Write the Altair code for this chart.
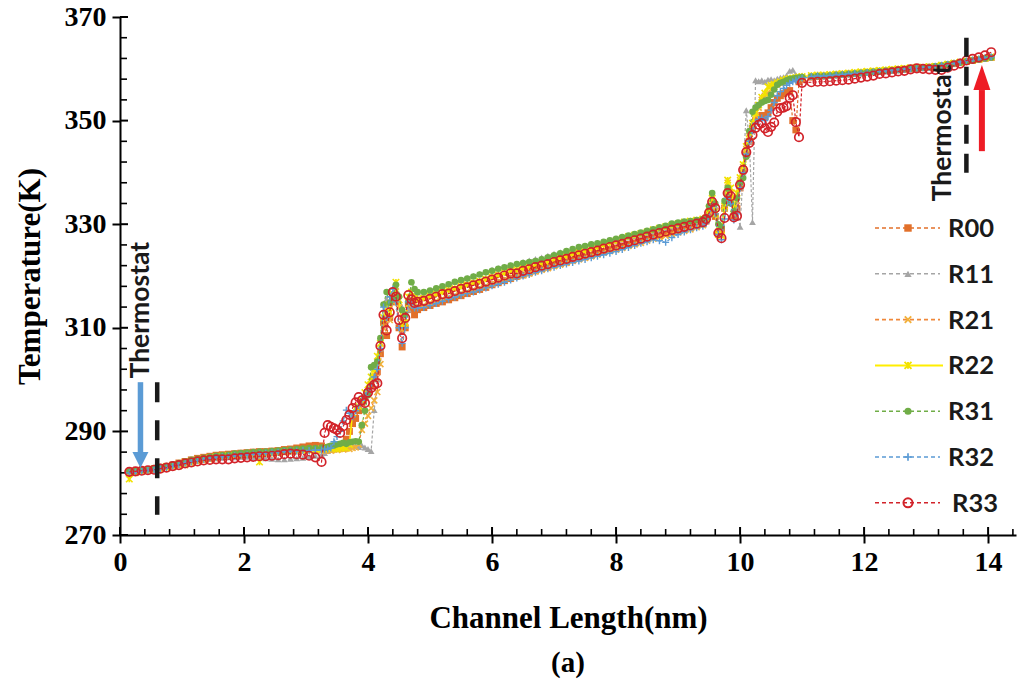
import altair as alt
import pandas as pd

# ---------------------------------------------------------------- data
# channel positions (nm): coarse bins on the plateaus, finer bins on the jumps
X_A = [0.15, 0.25, 0.35, 0.45, 0.55, 0.65, 0.75, 0.85, 0.95, 1.05, 1.15, 1.25, 1.35, 1.45, 1.55, 1.65,
       1.75, 1.85, 1.95, 2.05, 2.15, 2.25, 2.35, 2.45, 2.55, 2.65, 2.75, 2.85, 2.95, 3.05, 3.15, 3.25]
X_B = [3.30, 3.35, 3.40, 3.45, 3.50, 3.55, 3.60, 3.65, 3.70, 3.75, 3.80, 3.85, 3.90, 3.95, 4.00, 4.05,
       4.10, 4.15, 4.20, 4.25, 4.30, 4.35, 4.40, 4.45, 4.50, 4.55, 4.60, 4.65, 4.70, 4.75, 4.80]
X_C = [4.9, 5.0, 5.1, 5.2, 5.3, 5.4, 5.5, 5.6, 5.7, 5.8, 5.9, 6.0, 6.1, 6.2, 6.3, 6.4, 6.5, 6.6, 6.7, 6.8,
       6.9, 7.0, 7.1, 7.2, 7.3, 7.4, 7.5, 7.6, 7.7, 7.8, 7.9, 8.0, 8.1, 8.2, 8.3, 8.4, 8.5, 8.6, 8.7, 8.8,
       8.9, 9.0, 9.1, 9.2, 9.3, 9.4]
X_D = [9.45, 9.50, 9.55, 9.60, 9.65, 9.70, 9.75, 9.80, 9.85, 9.90, 9.95, 10.00, 10.05, 10.10, 10.15, 10.20,
       10.25, 10.30, 10.35, 10.40, 10.45, 10.50, 10.55, 10.60, 10.65, 10.70, 10.75, 10.80, 10.85, 10.90,
       10.95, 11.00]
X_E = [11.15, 11.25, 11.35, 11.45, 11.55, 11.65, 11.75, 11.85, 11.95, 12.05, 12.15, 12.25, 12.35, 12.45,
       12.55, 12.65, 12.75, 12.85, 12.95, 13.05, 13.15, 13.25, 13.35, 13.45, 13.55, 13.65, 13.75, 13.85,
       13.95, 14.05]
X = X_A + X_B + X_C + X_D + X_E

# temperature profiles (K), one list per run
R00 = [282.1, 282.2, 282.4, 282.5, 282.7, 282.9, 283.2, 283.5, 283.9, 284.2, 284.5, 284.8, 285.0, 285.2, 285.4, 285.5,
       285.6, 285.7, 285.8, 285.9, 286.0, 286.1, 286.1, 286.2, 286.3, 286.5, 286.6, 286.8, 287.0, 287.2, 287.3, 287.2,
       286.8, 286.9, 287.0, 286.8, 287.0, 287.1, 287.2, 288.5, 290.0, 291.5, 292.5, 294.0, 295.5, 296.5, 297.5, 299.0,
       300.5, 301.5, 305.0, 311.0, 308.5, 312.0, 316.0, 315.0, 310.0, 306.3, 310.0, 314.5, 313.5, 312.5, 313.5,
       313.9, 314.3, 314.7, 315.0, 315.4, 315.8, 316.2, 316.6, 317.0, 317.4, 317.8, 318.3, 318.7, 319.1, 319.5, 319.9,
       320.2, 320.6, 321.0, 321.4, 321.7, 322.1, 322.4, 322.7, 323.1, 323.4, 323.7, 324.0, 324.4, 324.7, 325.1, 325.4,
       325.8, 326.1, 326.4, 326.8, 327.2, 327.5, 327.8, 328.2, 328.5, 328.8, 329.1, 329.4, 329.7, 330.0,
       330.6, 332.0, 333.5, 331.5, 328.3, 329.0, 333.1, 336.0, 335.0, 331.5, 333.0, 337.0, 340.5, 343.5, 346.0, 348.5,
       350.0, 350.5, 351.0, 350.8, 351.5, 352.5, 353.5, 354.3, 354.8, 355.2, 355.5, 355.8, 350.0, 348.2, 357.5, 358.0,
       358.4, 358.5, 358.6, 358.7, 358.8, 358.9, 359.0, 359.1, 359.2, 359.3, 359.4, 359.5, 359.6, 359.7, 359.8, 359.9,
       360.0, 360.1, 360.2, 360.3, 360.4, 360.6, 360.8, 361.0, 361.2, 361.4, 361.6, 361.8, 362.0, 362.2]
R11 = [282.2, 282.3, 282.4, 282.5, 282.7, 282.9, 283.1, 283.3, 283.5, 283.8, 284.0, 284.3, 284.5, 284.7, 284.8, 284.9,
       285.0, 285.0, 285.1, 285.1, 285.0, 284.9, 284.8, 284.7, 284.6, 284.6, 284.7, 284.8, 284.9, 285.1, 285.3, 285.5,
       285.8, 286.2, 286.4, 286.5, 286.6, 286.8, 286.7, 286.9, 287.0, 287.1, 287.2, 287.0, 287.3, 286.9, 286.6, 286.2,
       294.1, 300.0, 306.0, 312.0, 315.5, 317.0, 316.0, 318.0, 316.5, 314.0, 312.5, 313.5, 315.5, 316.5, 316.8,
       316.4, 316.8, 317.3, 317.8, 318.4, 318.9, 319.2, 319.6, 320.0, 320.4, 320.8, 321.2, 321.5, 321.8, 322.1, 322.4,
       322.7, 323.0, 323.3, 323.6, 323.9, 324.3, 324.6, 324.8, 325.0, 325.3, 325.5, 325.7, 326.0, 326.3, 326.5, 326.8,
       327.1, 327.4, 327.7, 328.0, 328.3, 328.6, 328.9, 329.2, 329.5, 329.8, 330.1, 330.4, 330.6, 330.9,
       331.0, 333.0, 335.5, 333.5, 329.5, 328.5, 333.0, 336.5, 334.5, 334.0, 333.0, 329.5, 340.0, 352.0, 346.0, 330.4,
       357.8, 357.6, 357.8, 357.5, 357.9, 358.0, 357.8, 358.1, 358.3, 358.4, 358.7, 359.6, 359.8, 358.8, 358.6, 358.7,
       358.8, 358.9, 358.9, 359.0, 359.1, 359.2, 359.3, 359.4, 359.5, 359.5, 359.6, 359.7, 359.8, 359.9, 360.0, 360.1,
       360.2, 360.3, 360.4, 360.4, 360.5, 360.6, 360.8, 361.0, 361.2, 361.4, 361.6, 361.8, 362.0, 362.2]
R21 = [281.9, 282.0, 282.2, 282.4, 282.5, 282.7, 282.9, 283.1, 283.3, 283.5, 283.8, 284.1, 284.3, 284.5, 284.7, 284.9,
       285.0, 285.1, 285.2, 285.4, 285.5, 285.6, 285.7, 285.8, 285.9, 286.0, 286.1, 286.2, 286.2, 286.3, 286.3, 286.3,
       286.3, 286.4, 286.3, 286.5, 286.4, 286.6, 286.5, 286.7, 286.6, 286.8, 286.9, 287.5, 290.3, 291.5, 293.0, 294.5,
       296.0, 297.6, 303.0, 310.0, 313.0, 311.5, 315.0, 317.0, 314.0, 309.5, 310.5, 314.5, 315.5, 314.5, 314.2,
       314.4, 314.8, 315.2, 315.6, 316.0, 316.3, 316.7, 317.0, 317.4, 317.7, 318.1, 318.5, 318.9, 319.3, 319.6, 319.9,
       320.2, 320.5, 320.9, 321.2, 321.5, 321.9, 322.2, 322.5, 322.9, 323.2, 323.5, 323.8, 324.1, 324.5, 324.8, 325.1,
       325.4, 325.8, 326.1, 326.4, 326.8, 327.2, 327.5, 327.8, 328.1, 328.4, 328.7, 329.0, 329.4, 329.8,
       330.8, 332.5, 334.0, 332.5, 328.5, 328.0, 333.0, 338.0, 336.0, 332.0, 334.5, 338.5, 341.0, 344.5, 347.0, 349.0,
       351.0, 352.5, 354.0, 354.8, 355.3, 356.0, 356.5, 357.0, 357.3, 357.5, 357.7, 357.9, 358.0, 358.1, 358.2, 358.3,
       358.5, 358.6, 358.7, 358.8, 358.9, 359.0, 359.1, 359.2, 359.3, 359.4, 359.5, 359.6, 359.7, 359.8, 359.9, 360.0,
       360.1, 360.2, 360.3, 360.4, 360.5, 360.6, 360.8, 361.0, 361.2, 361.4, 361.6, 361.8, 362.0, 362.2]
R22 = [280.8, 282.3, 282.5, 282.6, 282.8, 283.0, 283.2, 283.4, 283.7, 284.0, 284.2, 284.5, 284.7, 284.9, 285.1, 285.2,
       285.3, 285.3, 285.4, 285.5, 285.5, 284.1, 285.7, 285.8, 285.9, 286.0, 286.1, 286.2, 286.3, 286.4, 286.5, 286.6,
       286.6, 286.8, 286.7, 286.9, 286.6, 286.8, 287.0, 286.8, 287.5, 293.5, 294.5, 294.8, 296.0, 297.5, 299.0, 300.5,
       302.0, 304.5, 307.0, 312.0, 314.5, 313.0, 316.5, 318.8, 315.4, 310.5, 311.0, 316.0, 316.9, 315.8, 315.5,
       315.7, 316.1, 316.5, 316.9, 317.3, 317.6, 318.0, 318.3, 318.7, 319.0, 319.4, 319.8, 320.2, 320.6, 320.9, 321.2,
       321.5, 321.8, 322.2, 322.5, 322.8, 323.2, 323.6, 323.9, 324.3, 324.6, 324.9, 325.3, 325.6, 326.0, 326.4, 326.8,
       327.2, 327.6, 327.9, 328.2, 328.5, 328.9, 329.2, 329.5, 329.8, 330.1, 330.4, 330.6, 330.8, 331.0,
       331.2, 333.0, 335.0, 332.0, 328.0, 327.8, 333.5, 338.5, 337.0, 333.0, 336.0, 339.0, 341.5, 345.0, 347.5, 349.5,
       351.5, 353.0, 354.5, 355.3, 356.5, 356.8, 357.0, 357.3, 357.5, 357.8, 358.0, 358.1, 358.2, 358.3, 358.4, 358.5,
       358.7, 358.8, 358.8, 358.9, 359.0, 359.1, 359.2, 359.3, 359.4, 359.5, 359.6, 359.7, 359.8, 359.9, 360.0, 360.1,
       360.2, 360.3, 360.3, 360.4, 360.5, 360.7, 360.9, 361.1, 361.3, 361.5, 361.7, 361.9, 362.1, 362.3]
R31 = [282.3, 282.4, 282.6, 282.7, 282.9, 283.1, 283.3, 283.6, 283.9, 284.2, 284.5, 284.7, 284.9, 285.1, 285.3, 285.4,
       285.5, 285.7, 285.8, 285.9, 286.0, 286.1, 286.1, 286.2, 286.3, 286.4, 286.5, 286.6, 286.7, 286.8, 286.8, 286.9,
       286.8, 287.0, 287.2, 287.3, 287.5, 287.6, 287.8, 287.6, 287.9, 288.0, 288.1, 288.0, 291.2, 294.0, 297.0, 302.4,
       302.8, 303.5, 308.0, 314.5, 316.9, 314.8, 315.5, 318.3, 316.0, 313.4, 312.5, 315.0, 318.8, 317.5, 316.9,
       316.9, 317.2, 317.6, 318.0, 318.4, 318.9, 319.2, 319.5, 319.9, 320.3, 320.7, 321.0, 321.4, 321.7, 322.0, 322.3,
       322.5, 322.7, 322.9, 323.2, 323.6, 324.0, 324.4, 324.8, 325.2, 325.6, 325.8, 326.1, 326.3, 326.6, 326.9, 327.2,
       327.5, 327.8, 328.1, 328.4, 328.7, 329.0, 329.4, 329.7, 330.1, 330.3, 330.5, 330.6, 330.8, 331.0,
       331.2, 333.5, 336.0, 334.0, 330.0, 329.5, 334.5, 337.0, 334.0, 332.5, 335.0, 338.0, 338.9, 343.0, 348.0, 351.7,
       352.5, 353.0, 353.5, 353.8, 354.0, 355.0, 356.0, 356.9, 357.3, 357.5, 357.8, 358.0, 358.1, 358.2, 358.3, 358.4,
       358.5, 358.6, 358.6, 358.7, 358.8, 358.9, 359.0, 359.1, 359.2, 359.3, 359.4, 359.5, 359.6, 359.7, 359.8, 359.9,
       360.0, 360.1, 360.2, 360.3, 360.5, 360.6, 360.8, 361.0, 361.2, 361.4, 361.6, 361.8, 362.0, 362.2]
R32 = [282.0, 282.1, 282.3, 282.5, 282.6, 282.8, 283.0, 283.3, 283.6, 283.9, 284.2, 284.4, 284.6, 284.8, 285.0, 285.1,
       285.2, 285.3, 285.4, 285.5, 285.6, 285.7, 285.8, 285.9, 286.0, 286.1, 286.2, 286.2, 286.3, 286.3, 286.4, 286.4,
       286.5, 286.6, 286.8, 288.0, 289.0, 290.0, 292.0, 294.1, 293.5, 292.8, 294.0, 295.0, 296.0, 297.0, 298.0, 299.0,
       300.5, 302.0, 306.0, 314.0, 312.0, 316.0, 317.5, 315.0, 310.0, 307.0, 310.0, 315.0, 314.5, 313.8, 313.8,
       313.9, 314.3, 314.7, 315.1, 315.5, 315.9, 316.3, 316.6, 316.9, 317.3, 317.7, 318.1, 318.4, 318.8, 319.2, 319.6,
       320.0, 320.3, 320.7, 321.0, 321.4, 321.7, 322.0, 322.3, 322.6, 322.9, 323.2, 323.5, 323.8, 324.1, 324.4, 324.7,
       325.1, 325.5, 325.9, 326.3, 326.6, 327.0, 326.8, 326.5, 327.4, 328.0, 328.5, 328.9, 329.3, 329.6,
       330.2, 331.5, 333.5, 332.0, 328.0, 327.0, 331.0, 335.0, 334.0, 330.8, 332.0, 337.0, 340.0, 343.5, 346.0, 348.0,
       349.5, 350.2, 350.5, 350.0, 350.8, 352.0, 353.5, 354.8, 355.6, 356.2, 356.8, 357.2, 357.5, 357.8, 358.0, 358.2,
       358.5, 358.6, 358.6, 358.7, 358.8, 358.9, 359.0, 359.1, 359.2, 359.3, 359.4, 359.5, 359.6, 359.7, 359.8, 359.9,
       360.0, 360.1, 360.2, 360.3, 360.5, 360.7, 360.9, 361.1, 361.3, 361.5, 361.7, 361.9, 362.1, 362.3]
R33 = [282.2, 282.3, 282.4, 282.5, 282.6, 282.8, 283.0, 283.3, 283.5, 283.8, 284.0, 284.2, 284.4, 284.5, 284.6, 284.6,
       284.6, 284.8, 284.9, 285.0, 285.1, 285.2, 285.2, 285.3, 285.4, 285.6, 285.7, 285.6, 285.5, 285.3, 285.0, 284.1,
       289.7, 291.2, 290.9, 290.6, 290.3, 289.7, 291.0, 292.2, 293.2, 294.5, 295.6, 296.6, 296.0, 295.5, 297.5, 298.4,
       299.0, 299.3, 306.5, 312.5, 309.5, 313.0, 316.9, 316.0, 311.5, 308.0, 311.9, 316.3, 315.5, 314.8, 315.0,
       315.2, 315.6, 316.0, 316.5, 316.6, 317.1, 317.5, 317.8, 318.2, 318.5, 318.9, 319.3, 319.7, 320.1, 320.5, 320.5,
       321.0, 321.3, 321.7, 322.0, 322.3, 322.7, 323.0, 323.3, 323.7, 324.0, 324.3, 324.6, 324.9, 325.3, 325.6, 325.9,
       326.2, 326.6, 326.9, 327.2, 327.6, 328.0, 328.3, 328.6, 328.9, 329.2, 329.5, 329.8, 330.1, 330.4,
       331.0, 332.2, 334.3, 333.1, 328.3, 327.3, 331.2, 336.0, 335.4, 331.3, 331.6, 337.6, 340.5, 343.9, 345.7, 347.2,
       348.6, 349.2, 349.5, 348.5, 347.8, 348.8, 349.6, 351.7, 352.4, 352.5, 352.8, 354.4, 354.9, 349.7, 346.8, 357.3,
       357.4, 357.5, 357.5, 357.6, 357.7, 357.8, 357.9, 358.1, 358.3, 358.5, 358.7, 359.0, 359.1, 359.3, 359.5, 359.6,
       359.9, 360.1, 360.0, 359.9, 359.8, 359.8, 360.2, 360.6, 361.0, 361.6, 361.9, 362.2, 362.6, 363.2]

SERIES = ["R00", "R11", "R21", "R22", "R31", "R32", "R33"]
VALUES = [R00, R11, R21, R22, R31, R32, R33]
for name, vals in zip(SERIES, VALUES):
    assert len(vals) == len(X), (name, len(vals), len(X))

# thermostat annotations (nm, K)
THERMO_LABEL_X = [0.34, 13.28]
THERMO_LABEL_T = [313.4, 347.6]
BATH_EDGE_X = [0.6, 13.65]
BATH_EDGE_T = [(299.5, 273.9), (366.0, 339.5)]
ARROW_X = [0.33, 13.90]
ARROW_SHAFT_T = [(299.5, 286.0), (344.1, 355.9)]
ARROW_HEAD_T = [284.5, 358.3]

# ---------------------------------------------------------------- styling
X_PATH = "M-1,-1L1,1M-1,1L1,-1"
STAR_PATH = "M-1,-1L1,1M-1,1L1,-1M0,-1L0,1"
PLUS_PATH = "M-1,0L1,0M0,-1L0,1"
STYLE = {
    "R00": dict(line="#E2702A", marker="#E2702A", shape="square", filled=True, size=48, dash=[3, 2], sw=1),
    "R11": dict(line="#A5A5A5", marker="#A5A5A5", shape="triangle-up", filled=True, size=46, dash=[3, 2], sw=1),
    "R21": dict(line="#F0883A", marker="#F2B13A", shape=X_PATH, filled=False, size=36, dash=[3, 2], sw=1.6),
    "R22": dict(line="#FFEE00", marker="#F2E200", shape=STAR_PATH, filled=False, size=42, dash=None, sw=1.6),
    "R31": dict(line="#70AD47", marker="#70AD47", shape="circle", filled=True, size=44, dash=[3, 2], sw=1),
    "R32": dict(line="#5B9BD5", marker="#5B9BD5", shape=PLUS_PATH, filled=False, size=48, dash=[3, 2], sw=1.4),
    "R33": dict(line="#D2232A", marker="#D2232A", shape="circle", filled=False, size=72, dash=[3, 2], sw=1.7),
}
SERIF = "Liberation Serif"
SANS = "Lato"
W, H = 896, 518

rows = []
for name, vals in zip(SERIES, VALUES):
    for x, t in zip(X, vals):
        rows.append({"series": name, "x": x, "T": t})
df = pd.DataFrame(rows)


def enc_x():
    return alt.X(
        "x:Q",
        scale=alt.Scale(domain=[0, 14.45], nice=False, zero=False),
        axis=alt.Axis(
            values=[0, 2, 4, 6, 8, 10, 12, 14], format="d", grid=False,
            tickSize=8, tickWidth=2, tickColor="black",
            domainColor="black", domainWidth=2,
            labelFont=SERIF, labelFontWeight="bold", labelFontSize=28, labelColor="black",
            labelPadding=5, labelFlush=False,
            title="Channel Length(nm)", titleFont=SERIF, titleFontWeight="bold", titleFontSize=31,
            titleColor="black", titleX=448, titleY=83, titleAlign="center", titleBaseline="middle",
        ),
    )


def enc_y(field="T:Q"):
    return alt.Y(
        field,
        scale=alt.Scale(domain=[270, 370], nice=False, zero=False),
        axis=alt.Axis(
            values=[270, 290, 310, 330, 350, 370], format="d", grid=False,
            tickSize=8, tickWidth=2, tickColor="black",
            domainColor="black", domainWidth=2,
            labelFont=SERIF, labelFontWeight="bold", labelFontSize=28, labelColor="black",
            labelPadding=6,
            title="Temperature(K)", titleFont=SERIF, titleFontWeight="bold", titleFontSize=31,
            titleColor="black", titleAngle=270, titleX=-90, titleY=H / 2,
            titleAlign="center", titleBaseline="middle",
        ),
    )


layers = []

# inward half of the major ticks and the inward minor ticks
x_major = [0, 2, 4, 6, 8, 10, 12, 14]
x_minor = [round(0.4 * k, 1) for k in range(1, 37) if k % 5 != 0]
y_major = [270, 290, 310, 330, 350, 370]
y_minor = [270 + 4 * k for k in range(1, 25) if k % 5 != 0]
layers.append(alt.Chart(pd.DataFrame({"x": x_major})).mark_rule(color="black", strokeWidth=2)
              .encode(x=enc_x(), y=alt.value(H), y2=alt.value(H - 8)))
layers.append(alt.Chart(pd.DataFrame({"x": x_minor})).mark_rule(color="black", strokeWidth=1.6)
              .encode(x=enc_x(), y=alt.value(H), y2=alt.value(H - 6)))
layers.append(alt.Chart(pd.DataFrame({"T": y_major})).mark_rule(color="black", strokeWidth=2)
              .encode(y=enc_y(), x=alt.value(0), x2=alt.value(8)))
layers.append(alt.Chart(pd.DataFrame({"T": y_minor})).mark_rule(color="black", strokeWidth=1.6)
              .encode(y=enc_y(), x=alt.value(0), x2=alt.value(7)))

# temperature profiles: each run's line, then its markers
for name in SERIES:
    st = STYLE[name]
    line_kw = dict(color=st["line"], strokeWidth=1.2 if st["dash"] else 1.5)
    if st["dash"]:
        line_kw["strokeDash"] = st["dash"]
    layers.append(alt.Chart(df).mark_line(**line_kw)
                  .encode(x=enc_x(), y=enc_y())
                  .transform_filter(alt.datum.series == name))
    layers.append(alt.Chart(df).mark_point(shape=st["shape"], size=st["size"], filled=st["filled"],
                                           color=st["marker"], strokeWidth=st["sw"], opacity=1)
                  .encode(x=enc_x(), y=enc_y())
                  .transform_filter(alt.datum.series == name))

# thermostat boundaries
layers.append(alt.Chart(pd.DataFrame({"x": [BATH_EDGE_X[0]], "T": [BATH_EDGE_T[0][0]], "T2": [BATH_EDGE_T[0][1]]}))
              .mark_rule(color="#1a1a1a", strokeWidth=4.5, strokeDash=[20, 18])
              .encode(x=enc_x(), y=enc_y(), y2="T2:Q"))
layers.append(alt.Chart(pd.DataFrame({"x": [BATH_EDGE_X[1]], "T": [BATH_EDGE_T[1][0]], "T2": [BATH_EDGE_T[1][1]]}))
              .mark_rule(color="#1a1a1a", strokeWidth=4.5, strokeDash=[19, 10])
              .encode(x=enc_x(), y=enc_y(), y2="T2:Q"))

# heat-flow arrows
layers.append(alt.Chart(pd.DataFrame({"x": [ARROW_X[0]], "T": [ARROW_SHAFT_T[0][0]], "T2": [ARROW_SHAFT_T[0][1]]}))
              .mark_rule(color="#5B9BD5", strokeWidth=5.5)
              .encode(x=enc_x(), y=enc_y(), y2="T2:Q"))
layers.append(alt.Chart(pd.DataFrame({"x": [ARROW_X[0]], "T": [ARROW_HEAD_T[0]]}))
              .mark_point(shape="M-1,-1L1,-1L0,1Z", size=256, filled=True, color="#5B9BD5", opacity=1)
              .encode(x=enc_x(), y=enc_y()))
layers.append(alt.Chart(pd.DataFrame({"x": [ARROW_X[1]], "T": [ARROW_SHAFT_T[1][0]], "T2": [ARROW_SHAFT_T[1][1]]}))
              .mark_rule(color="#EE1C25", strokeWidth=6)
              .encode(x=enc_x(), y=enc_y(), y2="T2:Q"))
layers.append(alt.Chart(pd.DataFrame({"x": [ARROW_X[1]], "T": [ARROW_HEAD_T[1]]}))
              .mark_point(shape="M-0.68,1L0.68,1L0,-1Z", size=625, filled=True, color="#EE1C25", opacity=1)
              .encode(x=enc_x(), y=enc_y()))

# "Thermostat" labels
layers.append(alt.Chart(pd.DataFrame({"x": THERMO_LABEL_X, "T": THERMO_LABEL_T}))
              .mark_text(text="Thermostat", angle=270, font=SANS, fontWeight="bold", fontSize=26.5,
                         color="#1a1a1a", align="center", baseline="middle")
              .encode(x=enc_x(), y=enc_y()))

# legend drawn as line sample + marker + label
LEG_TOP, LEG_STEP = 211, 45.8
for i, name in enumerate(SERIES):
    st = STYLE[name]
    ly = LEG_TOP + i * LEG_STEP
    one = pd.DataFrame({"series": [name]})
    rule_kw = dict(color=st["line"], strokeWidth=1.6 if st["dash"] else 2)
    if st["dash"]:
        rule_kw["strokeDash"] = [4, 3]
    layers.append(alt.Chart(one).mark_rule(**rule_kw)
                  .encode(x=alt.value(755), x2=alt.value(820 if st["dash"] else 823), y=alt.value(ly)))
    layers.append(alt.Chart(one).mark_point(shape=st["shape"], size=st["size"] * 1.15, filled=st["filled"],
                                            color=st["marker"], strokeWidth=st["sw"] + 0.3, opacity=1)
                  .encode(x=alt.value(788), y=alt.value(ly)))
    layers.append(alt.Chart(one).mark_text(text=name, font=SANS, fontWeight="bold", fontSize=25.5,
                                           color="#1a1a1a", align="left", baseline="middle")
                  .encode(x=alt.value(832 if name == "R33" else 828), y=alt.value(ly + 1)))

# panel tag
layers.append(alt.Chart(pd.DataFrame({"tag": ["(a)"]}))
              .mark_text(text="(a)", font=SERIF, fontWeight="bold", fontSize=29, color="black",
                         align="center", baseline="middle")
              .encode(x=alt.value(448), y=alt.value(646)))

chart = (
    alt.layer(*layers)
    .properties(width=W, height=H,
                padding={"left": 120, "top": 17, "right": 1, "bottom": 151},
                autosize=alt.AutoSizeParams(type="none"), background="white")
    .configure_view(stroke=None)
)

chart.save("out.html", embed_options={"renderer": "svg", "actions": False})
